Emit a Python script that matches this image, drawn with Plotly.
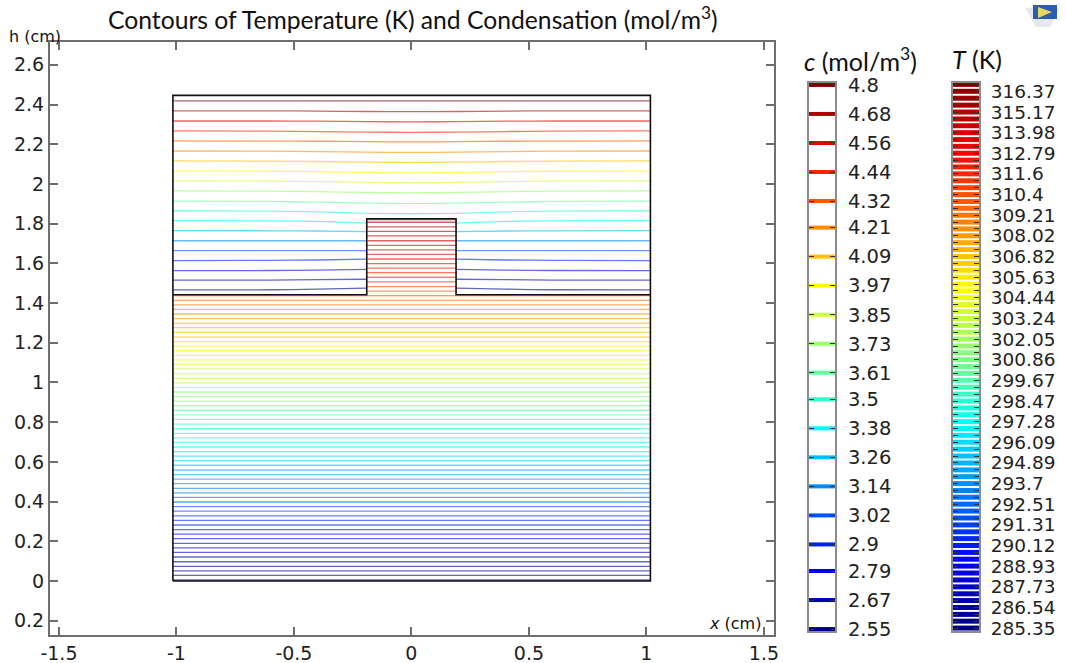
import plotly.graph_objects as go

# ---------- data ----------
X_TICKS = [-1.5, -1, -0.5, 0, 0.5, 1, 1.5]
X_LABELS = ["-1.5", "-1", "-0.5", "0", "0.5", "1", "1.5"]
Y_TICKS = [-0.2, 0, 0.2, 0.4, 0.6, 0.8, 1, 1.2, 1.4, 1.6, 1.8, 2, 2.2, 2.4, 2.6]
Y_LABELS = ["0.2", "0", "0.2", "0.4", "0.6", "0.8", "1", "1.2", "1.4", "1.6", "1.8", "2", "2.2", "2.4", "2.6"]

# geometry outline (cm)
OUTER_X = [-1.015, 1.017, 1.017, -1.015, -1.015]
OUTER_Y = [0, 0, 2.446, 2.446, 0]
INNER_X = [-1.015, -0.19, -0.19, 0.19, 0.19, 1.017]
INNER_Y = [1.442, 1.442, 1.825, 1.825, 1.442, 1.442]
HALF_WIDTH = 1.015
BUMP_HALF = 0.19
SPLIT_Y = 1.445

# concentration levels, top to bottom
C_LEVELS = [4.8, 4.68, 4.56, 4.44, 4.32, 4.21, 4.09, 3.97, 3.85, 3.73,
            3.61, 3.5, 3.38, 3.26, 3.14, 3.02, 2.9, 2.79, 2.67, 2.55]
# contour heights at x = 1.015, 0.6, 0.4, 0.19, 0 (None: stopped by the block)
C_PROFILE_X = [1.015, 0.6, 0.4, 0.19, 0.0]
C_PROFILES = [
    [2.418, 2.418, 2.418, 2.418, 2.418],
    [2.368, 2.368, 2.367, 2.365, 2.364],
    [2.317, 2.317, 2.316, 2.314, 2.313],
    [2.267, 2.266, 2.264, 2.261, 2.260],
    [2.217, 2.216, 2.215, 2.213, 2.212],
    [2.166, 2.165, 2.163, 2.160, 2.159],
    [2.116, 2.115, 2.113, 2.110, 2.109],
    [2.065, 2.064, 2.062, 2.058, 2.056],
    [2.015, 2.014, 2.012, 2.008, 2.006],
    [1.965, 1.964, 1.961, 1.957, 1.955],
    [1.913, 1.912, 1.908, 1.903, 1.901],
    [1.865, 1.863, 1.859, 1.852, 1.850],
    [1.815, 1.814, 1.811, 1.803, None],
    [1.765, 1.764, 1.763, 1.760, None],
    [1.714, 1.714, 1.714, 1.714, None],
    [1.664, 1.664, 1.664, 1.664, None],
    [1.614, 1.615, 1.617, 1.621, None],
    [1.563, 1.564, 1.566, 1.570, None],
    [1.516, 1.516, 1.518, 1.520, None],
    [1.466, 1.467, 1.470, 1.475, None],
]

# temperature levels, bottom to top, and the height of each contour
T_LEVELS = [285.35, 285.75, 286.14, 286.54, 286.94, 287.33, 287.73, 288.13, 288.53, 288.93,
            289.33, 289.72, 290.12, 290.52, 290.91, 291.31, 291.71, 292.11, 292.51, 292.91,
            293.30, 293.70, 294.10, 294.49, 294.89, 295.29, 295.69, 296.09, 296.49, 296.88,
            297.28, 297.68, 298.07, 298.47, 298.87, 299.27, 299.67, 300.07, 300.46, 300.86,
            301.26, 301.65, 302.05, 302.45, 302.84, 303.24, 303.64, 304.04, 304.44, 304.84,
            305.23, 305.63, 306.03, 306.42, 306.82, 307.22, 307.62, 308.02, 308.42, 308.81,
            309.21, 309.61, 310.00, 310.40, 310.80, 311.20, 311.60, 312.00, 312.39, 312.79,
            313.19, 313.58, 313.98, 314.38, 314.77, 315.17, 315.57, 315.97, 316.37, 316.77]
T_HEIGHTS = [0.005, 0.028, 0.051, 0.074, 0.097, 0.121, 0.144, 0.167, 0.190, 0.213,
             0.236, 0.259, 0.282, 0.305, 0.328, 0.352, 0.375, 0.398, 0.421, 0.444,
             0.467, 0.490, 0.513, 0.536, 0.559, 0.583, 0.606, 0.629, 0.652, 0.675,
             0.698, 0.721, 0.744, 0.767, 0.790, 0.814, 0.837, 0.860, 0.883, 0.906,
             0.929, 0.952, 0.975, 0.998, 1.021, 1.045, 1.068, 1.091, 1.114, 1.137,
             1.160, 1.183, 1.206, 1.229, 1.252, 1.276, 1.299, 1.322, 1.345, 1.368,
             1.391, 1.414, 1.437, 1.460, 1.483, 1.507, 1.530, 1.553, 1.576, 1.599,
             1.622, 1.645, 1.668, 1.691, 1.714, 1.738, 1.761, 1.784, 1.807, 1.821]
T_LABELS = ["285.35", "286.54", "287.73", "288.93", "290.12", "291.31", "292.51", "293.7", "294.89",
            "296.09", "297.28", "298.47", "299.67", "300.86", "302.05", "303.24", "304.44", "305.63",
            "306.82", "308.02", "309.21", "310.4", "311.6", "312.79", "313.98", "315.17", "316.37"]

W, H = 1066, 663
TICK_FONT = "DejaVu Sans"
TITLE_FONT = "Lato"
INK = "#222222"
FRAME = "#6e6e6e"
LINE_OPACITY = 0.6


def jet(t):
    def f(v):
        return int(round(255 * max(0.0, min(1.0, v))))
    s = 4 * t
    return "rgb(%d,%d,%d)" % (f(1.5 - abs(s - 3)), f(1.5 - abs(s - 2)), f(1.5 - abs(s - 1)))


def px_x(p):
    return p / W


def px_y(p):
    return 1 - p / H


def t_color(v):
    return jet((v - T_LEVELS[0]) / (T_LEVELS[-1] - T_LEVELS[0]))


def c_color(v):
    return jet((v - C_LEVELS[-1]) / (C_LEVELS[0] - C_LEVELS[-1]))


fig = go.Figure()

# temperature contours
for level, y in zip(T_LEVELS, T_HEIGHTS):
    half = HALF_WIDTH if y < SPLIT_Y else BUMP_HALF
    fig.add_trace(go.Scatter(x=[-half, half], y=[y, y], mode="lines", opacity=LINE_OPACITY,
                             line=dict(color=t_color(level), width=1.3), hoverinfo="skip", showlegend=False))

# concentration contours
for level, prof in zip(C_LEVELS, C_PROFILES):
    if prof[-1] is None:
        xs = [-a for a in C_PROFILE_X[:4]] + [None] + C_PROFILE_X[:4][::-1]
        ys = prof[:4] + [None] + prof[:4][::-1]
    else:
        xs = [-a for a in C_PROFILE_X] + C_PROFILE_X[:4][::-1]
        ys = prof + prof[:4][::-1]
    fig.add_trace(go.Scatter(x=xs, y=ys, mode="lines", opacity=LINE_OPACITY,
                             line=dict(color=c_color(level), width=1.3, shape="spline", smoothing=0.7),
                             hoverinfo="skip", showlegend=False))

# geometry
for gx, gy in ((OUTER_X, OUTER_Y), (INNER_X, INNER_Y)):
    fig.add_trace(go.Scatter(x=gx, y=gy, mode="lines", line=dict(color="#111111", width=1.6),
                             hoverinfo="skip", showlegend=False))

# colour legends
for level in C_LEVELS:
    fig.add_trace(go.Scatter(x=[0, 1], y=[level, level], xaxis="x2", yaxis="y2", mode="lines",
                             line=dict(color=c_color(level), width=4), hoverinfo="skip", showlegend=False))
for level in T_LEVELS:
    fig.add_trace(go.Scatter(x=[0, 1], y=[level, level], xaxis="x3", yaxis="y3", mode="lines",
                             line=dict(color=t_color(level), width=5), hoverinfo="skip", showlegend=False))

tick_text = ["" for _ in T_LEVELS]
for i, lab in enumerate(T_LABELS):
    tick_text[i * 3] = lab

bar_x = dict(range=[0, 1], showgrid=False, zeroline=False, showticklabels=False, ticks="", automargin=False,
             showline=True, linecolor="#8c8c8c", linewidth=2, mirror=True, fixedrange=True)
bar_y = dict(side="right", showgrid=False, zeroline=False, ticks="inside", ticklen=5, tickwidth=1, automargin=False,
             tickcolor="#333333", showline=True, linecolor="#8c8c8c", linewidth=2, mirror="ticks",
             fixedrange=True)

main_axis = dict(showgrid=False, zeroline=False, ticks="inside", ticklen=8, tickwidth=1.5, automargin=False,
                 tickcolor=FRAME, showline=True, linecolor=FRAME, linewidth=2, mirror="ticks",
                 tickfont=dict(family=TICK_FONT, size=19, color=INK), fixedrange=True)

fig.update_layout(
    width=W, height=H, margin=dict(l=0, r=0, t=0, b=0, pad=0), autosize=False,
    paper_bgcolor="white", plot_bgcolor="white", showlegend=False,
    xaxis=dict(main_axis, domain=[px_x(50), px_x(774)], range=[-1.538, 1.543],
               tickvals=X_TICKS, ticktext=X_LABELS, anchor="y"),
    yaxis=dict(main_axis, domain=[px_y(635), px_y(42)], range=[-0.272, 2.715],
               tickvals=Y_TICKS, ticktext=Y_LABELS, anchor="x"),
    xaxis2=dict(bar_x, domain=[px_x(809), px_x(835)], anchor="y2"),
    yaxis2=dict(bar_y, domain=[px_y(631), px_y(83)], range=[2.542, 4.808], anchor="x2",
                ticklabelstandoff=7, tickfont=dict(family=TICK_FONT, size=19.5, color=INK),
                tickvals=C_LEVELS, ticktext=[("%g" % v) for v in C_LEVELS]),
    xaxis3=dict(bar_x, domain=[px_x(953), px_x(979)], anchor="y3"),
    yaxis3=dict(bar_y, domain=[px_y(631), px_y(83)], range=[285.18, 316.85], anchor="x3",
                ticklabelstandoff=6, tickfont=dict(family=TICK_FONT, size=18.5, color=INK),
                tickvals=T_LEVELS, ticktext=tick_text),
)


def label(text, x, y, size, family, anchor="left"):
    fig.add_annotation(text=text, xref="paper", yref="paper", x=px_x(x), y=px_y(y), showarrow=False,
                       xanchor=anchor, yanchor="middle", font=dict(family=family, size=size, color="#111111"))


label("Contours of Temperature (K) and Condensation (mol/m<sup>3</sup>)", 413, 18, 24.7, TITLE_FONT, "center")
label("<i>c</i> (mol/m<sup>3</sup>)", 802, 59, 25, TITLE_FONT)
label("<i>T</i> (K)", 950, 59, 25, TITLE_FONT)
label("<i>x</i> (cm)", 707, 623, 16, TICK_FONT)
label("h (cm)", 7, 36, 16, TICK_FONT)

# small application icon in the top right corner
fig.add_shape(type="path", xref="paper", yref="paper", layer="above",
              path="M %f %f L %f %f L %f %f L %f %f Z" % (px_x(1025), px_y(8), px_x(1060), px_y(8), px_x(1050), px_y(27), px_x(1036), px_y(27)),
              fillcolor="#e6e8ee", line=dict(width=0))
fig.add_shape(type="rect", xref="paper", yref="paper", layer="above", x0=px_x(1033), x1=px_x(1057),
              y0=px_y(19), y1=px_y(5), fillcolor="#2a5fb0", line=dict(width=0))
fig.add_shape(type="path", xref="paper", yref="paper", layer="above",
              path="M %f %f L %f %f L %f %f Z" % (px_x(1038), px_y(7), px_x(1052), px_y(12), px_x(1038), px_y(18)),
              fillcolor="#e8d860", line=dict(width=0))

fig.write_html("out.html", config={"displayModeBar": False}, post_script="document.body.style.margin='0';")
